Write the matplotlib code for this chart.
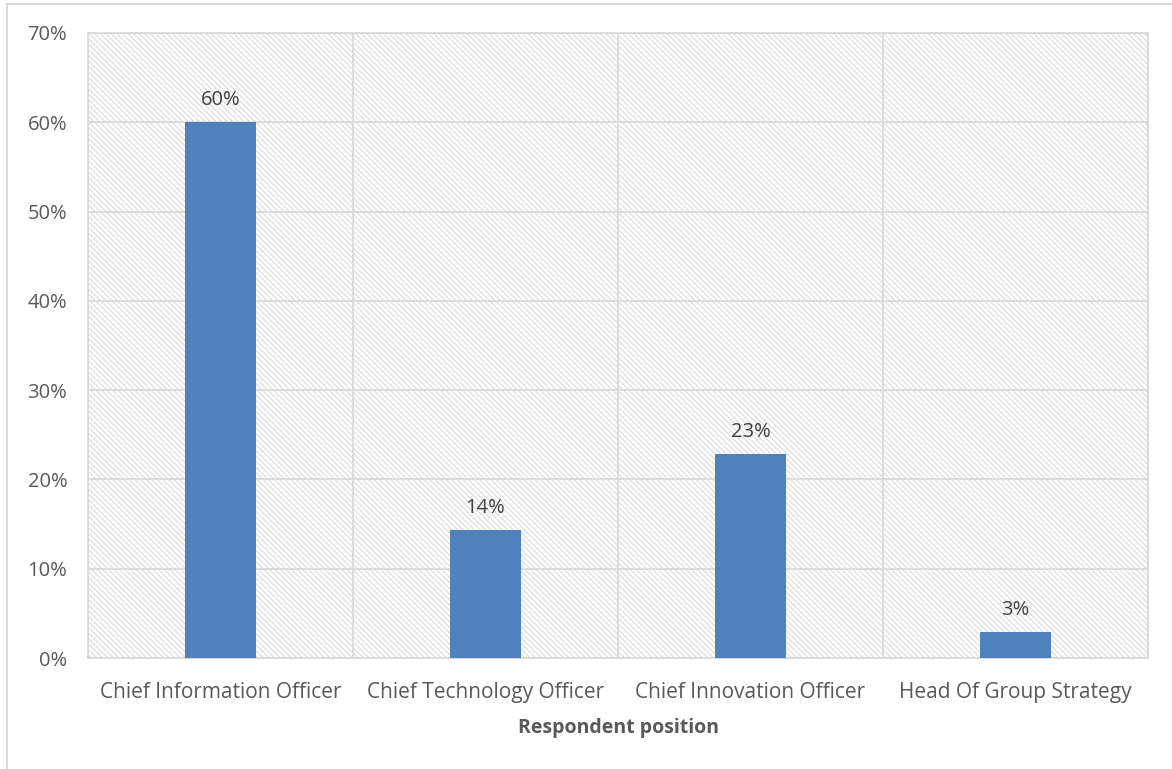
import matplotlib
matplotlib.use("Agg")
import matplotlib.pyplot as plt
from matplotlib.lines import Line2D
import numpy as np

categories = ["Chief Information Officer", "Chief Technology Officer",
              "Chief Innovation Officer", "Head Of Group Strategy"]
values = [60.0, 14.3, 22.8, 2.9]
value_labels = ["60%", "14%", "23%", "3%"]
y_ticks = [0, 10, 20, 30, 40, 50, 60, 70]
x_title = "Respondent position"

plt.rcParams['font.family'] = ['Open Sans', 'DejaVu Sans']
plt.rcParams['hatch.color'] = '#DADADA'
plt.rcParams['hatch.linewidth'] = 0.8

text_color = '#595959'
grid_color = '#D9D9D9'
bar_color = '#4F81BD'
fs = 14.5

fig = plt.figure(figsize=(11.72, 7.69), dpi=100)
ax = fig.add_axes([88/1172, 1-658/769, (1148-88)/1172, (658-33)/769])

ax.patch.set_facecolor('white')
ax.patch.set_hatch('\\' * 6)
ax.patch.set_edgecolor('#DADADA')

x = np.arange(len(categories))
ax.bar(x, values, width=0.27, color=bar_color, zorder=3)
for xi, v, lab in zip(x, values, value_labels):
    ax.text(xi, v + 1.4, lab, ha='center', va='bottom', fontsize=fs, color='#404040', zorder=4)

ax.set_xlim(-0.5, len(categories) - 0.5)
ax.set_ylim(0, 70)
ax.set_yticks(y_ticks)
ax.set_yticklabels([f"{t}%" for t in y_ticks])
ax.set_xticks(x)
ax.set_xticklabels(categories, fontsize=15)
ax.tick_params(axis='both', length=0, labelcolor=text_color)
ax.tick_params(axis='y', pad=15, labelsize=fs)
ax.tick_params(axis='x', pad=17)

for t in y_ticks:
    ax.axhline(t, color=grid_color, lw=1.3, zorder=1)
for b in np.arange(-0.5, len(categories), 1.0):
    ax.axvline(b, color=grid_color, lw=1.3, zorder=1)
for s in ax.spines.values():
    s.set_color(grid_color)
    s.set_linewidth(1.3)

ax.set_xlabel(x_title, fontsize=fs - 0.5, fontweight='bold', color=text_color, labelpad=11)

# outer frame
fig.add_artist(Line2D([7/1172, 7/1172], [0, 1-4/769], transform=fig.transFigure, color='#D9D9D9', lw=1.5))
fig.add_artist(Line2D([7/1172, 1], [1-4/769, 1-4/769], transform=fig.transFigure, color='#D9D9D9', lw=1.5))

fig.savefig('out.png', dpi=100)
